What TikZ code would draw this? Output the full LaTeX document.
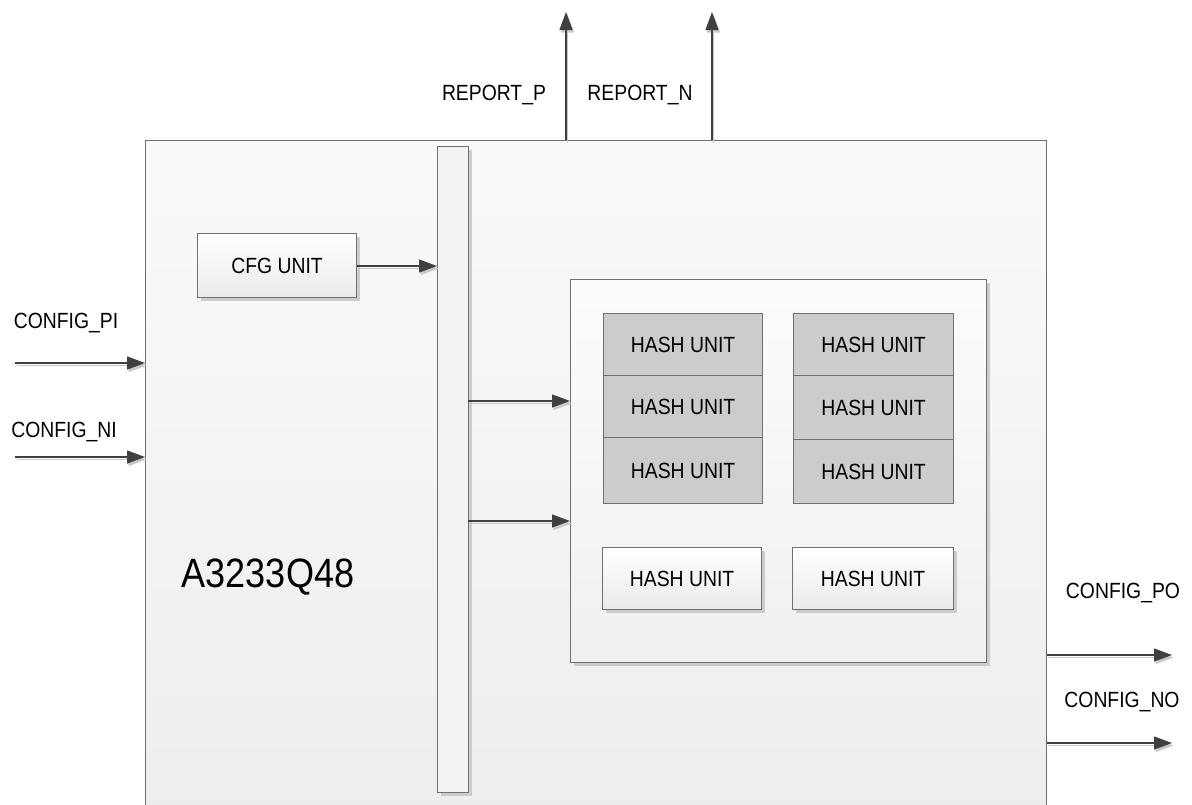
\documentclass[tikz,border=0pt]{standalone}
\usepackage{fontspec}
\setmainfont{Liberation Sans}[FakeStretch=0.88]
\usetikzlibrary{arrows.meta,shadows}
\definecolor{boxline}{HTML}{707070}
\definecolor{sigc}{HTML}{404040}
\definecolor{sigsh}{HTML}{C8C8C8}
\definecolor{unitgray}{HTML}{CCCCCC}
\tikzset{
  lbl/.style={font=\fontsize{22}{26}\selectfont, inner sep=0pt},
  blk/.style={draw=boxline, line width=1.2pt, inner sep=0pt, anchor=north west,
    font=\fontsize{22}{26}\selectfont},
  shbox/.style={blk, drop shadow={shadow xshift=3pt, shadow yshift=-3pt, fill=black!20, opacity=1}},
  lightfill/.style={top color=white, bottom color=white!92!black},
  sig/.style={draw=sigc, line width=1.3pt, -{Triangle[length=18pt,width=13pt]}},
  sigshd/.style={draw=sigsh, line width=1.3pt, -{Triangle[length=18pt,width=13pt]},
    transform canvas={shift={(1.5pt,-2.5pt)}}},
}
\newcommand\sigline[2]{\draw[sigshd] #1 -- #2; \draw[sig] #1 -- #2;}
\begin{document}
\begin{tikzpicture}[x=1pt,y=-1pt]
\useasboundingbox (0,0) rectangle (1192,804);
\fill[white] (0,0) rectangle (1192,804);
% chip
\node[blk, top color=white!98!black, bottom color=white!93!black,
  minimum width=901pt, minimum height=680pt] (chip) at (145,140) {};
\node[font=\fontsize{41}{46}\selectfont, inner sep=0pt] (name) at (268,577) {A3233Q48};
% bus
\node[shbox, fill=white!95!black, minimum width=31pt, minimum height=646pt] (bus) at (437,146) {};
% cfg unit
\node[shbox, lightfill, minimum width=159pt, minimum height=64pt] (cfg) at (197,233) {CFG UNIT};
% container
\node[shbox, top color=white!99!black, bottom color=white!94!black,
  minimum width=416pt, minimum height=383pt] (cont) at (570,279) {};
% gray units
\node[blk, fill=unitgray, minimum width=159pt, minimum height=62pt] (h1) at (603,313) {HASH UNIT};
\node[blk, fill=unitgray, minimum width=159pt, minimum height=62pt] (h2) at (603,375) {HASH UNIT};
\node[blk, fill=unitgray, minimum width=159pt, minimum height=66pt] (h3) at (603,437) {HASH UNIT};
\node[blk, fill=unitgray, minimum width=160pt, minimum height=62pt] (h4) at (793,313) {HASH UNIT};
\node[blk, fill=unitgray, minimum width=160pt, minimum height=64pt] (h5) at (793,375) {HASH UNIT};
\node[blk, fill=unitgray, minimum width=160pt, minimum height=64pt] (h6) at (793,439) {HASH UNIT};
% lower units
\node[shbox, lightfill, minimum width=159pt, minimum height=62pt] (h7) at (602,547) {HASH UNIT};
\node[shbox, lightfill, minimum width=161pt, minimum height=62pt] (h8) at (792,547) {HASH UNIT};
% signals
\coordinate (pis) at (15,363);
\coordinate (nis) at (15,457);
\coordinate (poe) at (1172,655);
\coordinate (noe) at (1172,743);
\coordinate (rpe) at (566,12);
\coordinate (rne) at (712,12);
\coordinate (b1) at (468,401);
\coordinate (b2) at (468,521);
\coordinate (c0) at (437,266);
\sigline{(pis)}{(pis -| chip.west)}
\sigline{(nis)}{(nis -| chip.west)}
\sigline{(poe -| chip.east)}{(poe)}
\sigline{(noe -| chip.east)}{(noe)}
\sigline{(rpe |- chip.north)}{(rpe)}
\sigline{(rne |- chip.north)}{(rne)}
\sigline{(cfg.east |- c0)}{(c0)}
\sigline{(b1)}{(b1 -| cont.west)}
\sigline{(b2)}{(b2 -| cont.west)}
% labels
\node[lbl] (lpi) at (66,323) {CONFIG\_PI};
\node[lbl] (lni) at (64,432) {CONFIG\_NI};
\node[lbl] (lpo) at (1123,593) {CONFIG\_PO};
\node[lbl] (lno) at (1122,702) {CONFIG\_NO};
\node[lbl] (lrp) at (494,95) {REPORT\_P};
\node[lbl] (lrn) at (640,95) {REPORT\_N};
\end{tikzpicture}
\end{document}
